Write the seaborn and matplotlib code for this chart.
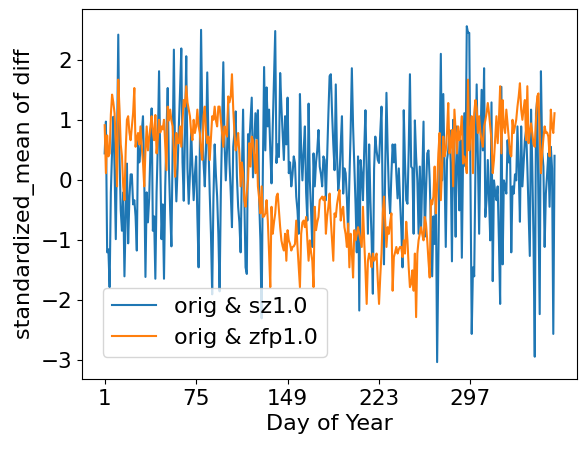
import numpy as np
import pandas as pd
import matplotlib
matplotlib.use('Agg')
import matplotlib.pyplot as plt
import seaborn as sns

# values, one per day (1..365)
sz_vals = [
    0.45, 0.98, -1.2, -1.15, -1.78, -0.2, 0.5, 1.06, 0.2, -0.98,
    0.6, 2.43, 0.4, -0.5, -0.84, -0.2, -1.6, -0.6, 0.28, -1.05,
    -0.3, 0.1, 0.1, -0.4, -0.33, -0.6, -1.17, 0.67, 0.3, 0.5,
    0.8, 1.07, 0.1, -1.61, -0.2, -0.7, -0.3, 0.5, 1.2, -0.84,
    -0.6, -1.64, -0.2, 0.6, 1.82, 0.3, -0.98, -0.4, -1.64, -0.1,
    0.8, 1.54, 0.2, -0.5, -1.1, 0.6, 2.18, 0.3, -0.35, 0.2,
    0.9, 1.5, 2.2, 0.3, -0.34, 0.8, 2.07, 0.2, -0.39, 0.1,
    0.84, 0.2, -0.33, 0.1, 0.4, -0.6, -1.45, 0.5, 2.51, 1.0,
    0.3, -0.1, 0.5, 1.8, 0.6, -0.22, -0.9, -1.9, -0.3, 0.6,
    0.1, -0.27, -0.9, -1.85, -0.2, 0.9, 1.97, 0.6, 0.0, 0.5,
    1.28, 0.3, -0.2, -0.78, 0.56, 0.8, 1.15, 0.06, -0.44, -0.7,
    -1.2, 0.1, 1.18, -0.3, -1.45, -1.56, 0.77, 0.6, 1.0, 1.38,
    0.05, 0.6, 1.12, 0.7, 1.17, -0.33, -1.0, -2.3, 0.2, 1.89,
    0.5, 1.55, 0.9, 1.18, 0.5, -0.05, 0.9, 1.7, 2.49, 0.29,
    0.6, 0.39, 1.79, 1.23, 0.8, 0.34, 1.07, 0.6, 1.38, 0.12,
    0.3, -0.1, 0.1, 0.4, 0.29, -0.27, -0.5, -0.89, 1.44, 0.5,
    0.0, 0.5, 0.9, -0.2, -0.67, 1.28, 0.0, -0.5, -1.11, 0.45,
    -0.1, 0.3, 0.5, 0.84, 0.23, 0.1, -0.1, 0.4, 0.34, -0.33,
    0.4, 1.1, 1.74, 1.77, 1.12, 0.6, 0.17, 1.6, 0.4, -0.17,
    0.06, 0.6, 1.07, -0.22, 0.2, 0.12, -0.3, -0.89, 0.0, 0.8,
    1.87, 0.9, 0.23, -0.4, -1.2, 0.4, -2.17, 0.34, 0.1, -0.33,
    0.5, 1.17, 0.1, -0.89, 0.6, -0.33, -1.0, -1.89, 0.2, 0.73,
    0.5, 0.34, 0.29, 0.8, 1.23, -0.39, -1.4, 0.2, 1.46, 0.5,
    -0.22, -0.55, 0.1, 0.6, 0.3, 0.6, 0.1, -0.3, 0.2, -0.33,
    -0.8, -1.45, 1.17, 0.3, -0.33, -0.39, 0.5, 1.77, 0.23, 0.2,
    -0.89, 1.0, 0.4, 0.0, -0.89, 0.23, -0.84, 0.1, 0.98, -0.94,
    -0.2, 0.45, 0.5, 0.0, -0.78, -1.6, -0.6, -1.06, -0.22, -3.03,
    -1.34, 0.5, 2.11, 0.0, 1.44, 0.2, -1.11, 0.34, 0.5, 0.84,
    0.3, -1.35, 1.01, 0.2, -0.94, 0.9, 0.3, -0.5, 0.67, -1.29,
    0.4, 1.12, 0.23, 2.57, 2.46, 2.46, 0.0, -2.56, -1.45, -1.6,
    0.2, 1.6, 0.3, -0.89, 0.5, 1.51, 0.5, 1.87, -0.61, -0.33,
    0.34, -0.3, -1.0, 1.3, -1.68, 0.0, -0.2, -0.33, -0.1, -1.0,
    -2.06, 1.56, -1.4, 0.0, -0.1, -0.22, 0.67, 0.3, 0.56, -1.2,
    -0.1, -0.22, 0.1, 0.0, 0.9, 0.2, -0.69, 0.9, -0.1, 0.3,
    0.67, 0.84, 0.23, -0.5, -1.26, 1.18, 0.23, -1.0, -2.94, 1.12,
    1.35, -0.5, -2.23, 1.82, 0.5, 0.23, -1.11, -0.22, 0.1, 0.45,
    -0.44, 0.56, 0.2, -2.56, 0.41,
]

zfp_vals = [
    0.92, 0.12, 0.75, 0.4, 0.45, 1.1, 1.43, 1.3, 1.12, 0.6,
    -0.1, 1.68, 1.18, 0.6, 0.4, -0.1, -0.33, 0.5, 1.01, 1.07,
    0.8, 0.67, 0.9, 1.12, 1.54, 0.56, 0.7, 0.79, 0.6, 0.9,
    0.56, 0.3, -0.1, 0.5, 0.9, 0.5, 0.7, 0.9, 1.07, 0.8,
    0.67, 1.09, 0.45, 0.7, 1.01, 0.8, 0.9, 0.85, 1.01, 0.6,
    0.17, 1.23, 1.0, 1.18, 1.0, 0.9, 0.5, 0.06, 0.79, 0.62,
    0.62, 0.9, 0.56, 1.0, 1.34, 1.23, 1.57, 1.3, 1.18, 1.07,
    0.8, 0.67, 1.01, 0.79, 0.9, 1.18, 0.9, 0.79, 0.5, 0.34,
    1.07, 1.23, 0.8, 0.62, 0.73, 0.34, 0.7, 1.07, 1.01, 1.23,
    1.0, 0.9, 1.23, 1.23, 1.0, 0.79, 0.56, 0.9, 0.8, 0.73,
    1.4, 1.3, 1.4, 1.77, 1.2, 0.79, 0.5, 0.6, 0.79, 0.45,
    -0.1, 0.3, 0.12, -0.33, -0.44, -0.2, 0.0, 0.62, 0.23, 0.73,
    0.67, 0.4, 0.12, 0.67, -0.1, -0.3, -0.55, -0.1, -0.61, -0.6,
    -0.55, -0.33, -0.67, -1.2, -1.78, -0.44, -0.89, -0.7, -0.55, -0.27,
    -0.22, -0.5, -0.78, -1.0, -1.1, -1.17, -0.89, -1.34, -0.83, -1.0,
    -1.06, -1.17, -1.11, -1.1, -1.06, -0.67, -1.1, -1.45, -1.78, -0.89,
    -0.7, -0.67, -0.78, -0.61, -1.0, -1.34, -1.0, -1.2, -1.34, -1.78,
    -0.44, -0.83, -0.7, -0.61, -0.33, -0.3, -0.27, -0.33, -0.27, -0.89,
    -0.6, -0.44, -0.22, -0.67, -1.0, -1.34, -0.55, -0.61, -0.4, -0.27,
    -0.16, -0.67, -0.5, -0.44, -0.78, -0.9, -1.11, -0.72, -1.45, -0.89,
    -1.2, -1.62, -0.83, -1.0, -0.9, -0.78, -0.89, -1.0, -1.11, -0.44,
    -1.0, -1.5, -2.06, -1.34, -1.22, -1.3, -1.45, -1.22, -1.34, -1.3,
    -1.22, -1.67, -2.06, -1.6, -1.22, -0.55, -0.27, -0.7, -1.11, -0.78,
    -0.89, -0.7, -0.55, -1.84, -1.28, -1.2, -1.11, -1.22, -1.15, -1.11,
    -1.11, -1.28, -1.0, -1.22, -0.69, -1.0, -1.45, -1.78, -1.72, -1.5,
    -1.84, -1.22, -2.28, -1.22, -1.0, -0.89, -0.78, -0.9, -1.0, -0.61,
    -0.72, -1.0, -1.34, -1.62, -0.33, -0.4, -0.27, 0.23, -0.55, -0.1,
    0.45, 0.79, -0.33, 0.2, 0.73, 0.4, 0.5, 0.8, 1.29, 0.45,
    0.6, 0.84, -0.1, 1.18, 0.8, 0.45, 0.9, 0.67, 0.8, 1.07,
    0.28, 0.4, 0.3, 0.12, 1.68, 0.5, 0.8, 1.07, 0.12, 1.12,
    1.34, 1.2, 0.79, 1.07, 0.8, 0.67, 0.56, 0.9, 1.0, 1.12,
    1.29, 1.12, 0.9, 0.67, 0.12, 0.34, 0.7, 1.07, 0.62, 1.0,
    1.57, 0.45, 1.34, 0.9, 0.79, 1.18, 0.95, 0.7, 0.45, 0.4,
    1.01, 0.79, 0.9, 1.01, 1.23, 1.4, 1.62, 1.18, 1.01, 1.2,
    1.34, 0.67, 1.57, 0.62, 0.8, 0.95, 0.79, 0.6, 0.56, 1.01,
    1.4, 1.45, 0.8, 0.12, 0.45, 0.7, 0.9, 0.79, 0.8, 0.73,
    0.4, 1.18, 0.9, 0.79, 1.12,
]

series_names = ['orig & sz1.0', 'orig & zfp1.0']
tick_days = [1, 75, 149, 223, 297]

days = np.arange(1, len(sz_vals) + 1)
df = pd.DataFrame({
    'day': np.concatenate([days, np.arange(1, len(zfp_vals) + 1)]),
    'value': sz_vals + zfp_vals,
    'series': [series_names[0]] * len(sz_vals) + [series_names[1]] * len(zfp_vals),
})

fig, ax = plt.subplots(figsize=(5.87, 4.5), dpi=100)
fig.subplots_adjust(left=0.140, right=0.983, top=0.979, bottom=0.158)

sns.lineplot(data=df, x='day', y='value', hue='series',
             palette=['#1f77b4', '#ff7f0e'], linewidth=1.5, ax=ax)

ax.set_xticks(tick_days)
ax.set_xticklabels([str(d) for d in tick_days])
ax.tick_params(labelsize=15.5)
ax.set_xlabel('Day of Year', fontsize=16)
ax.set_ylabel('standardized_mean of diff', fontsize=16)

handles, labels = ax.get_legend_handles_labels()
ax.legend(handles, labels, loc='lower left', fontsize=16,
          bbox_to_anchor=(0.042, 0.06), borderaxespad=0)

fig.savefig('out.png', dpi=100)
